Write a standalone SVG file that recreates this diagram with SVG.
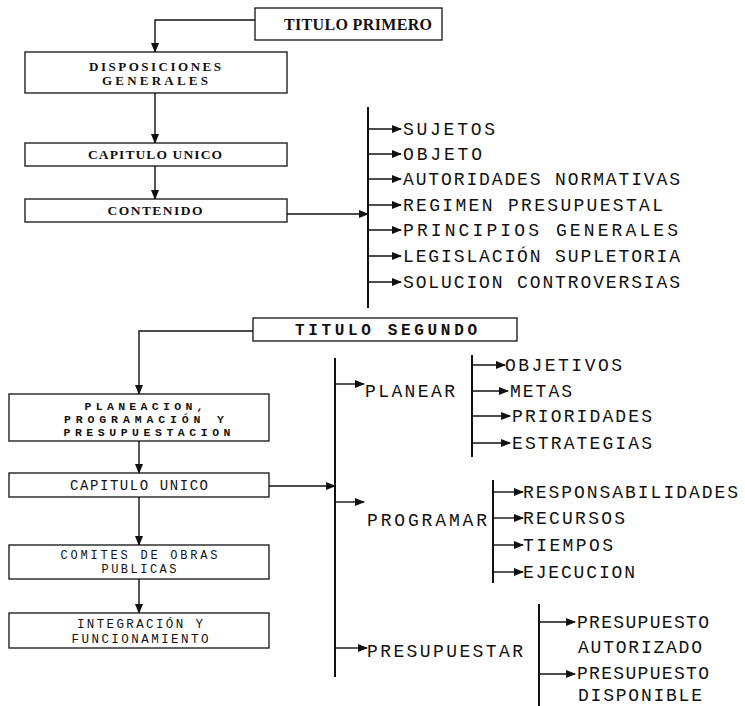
<svg xmlns="http://www.w3.org/2000/svg" width="745" height="706" viewBox="0 0 745 706">
<style>
.box{fill:#fff;stroke:#111;stroke-width:1.3}
.ln{fill:none;stroke:#111;stroke-width:1.4}
.bar{fill:none;stroke:#111;stroke-width:2}
.ser{font-family:"Liberation Serif","Times New Roman",serif;font-weight:bold;fill:#111}
.mono{font-family:"Liberation Mono","Courier New",monospace;fill:#111}
.mb{font-family:"Liberation Mono","Courier New",monospace;font-weight:bold;fill:#111}
.li{font-size:18px}
</style>
<defs>
<marker id="ah" markerWidth="10" markerHeight="8" refX="9" refY="4" orient="auto" markerUnits="userSpaceOnUse">
<path d="M0,0 L10,4 L0,8 Z" fill="#111"/>
</marker>
</defs>
<rect width="745" height="706" fill="#fff"/>

<g id="connectors">
<path class="ln" d="M255,20 H155 V52" marker-end="url(#ah)"/>
<path class="ln" d="M155,93 V143" marker-end="url(#ah)"/>
<path class="ln" d="M155,166 V199" marker-end="url(#ah)"/>
<path class="ln" d="M287,214 H368" marker-end="url(#ah)"/>
<path class="bar" d="M368,107 V308"/>
<path class="ln" d="M368,129 H401" marker-end="url(#ah)"/>
<path class="ln" d="M368,154 H401" marker-end="url(#ah)"/>
<path class="ln" d="M368,179 H401" marker-end="url(#ah)"/>
<path class="ln" d="M368,205 H401" marker-end="url(#ah)"/>
<path class="ln" d="M368,230 H401" marker-end="url(#ah)"/>
<path class="ln" d="M368,256 H401" marker-end="url(#ah)"/>
<path class="ln" d="M368,282 H401" marker-end="url(#ah)"/>

<path class="ln" d="M253,331 H139 V394" marker-end="url(#ah)"/>
<path class="ln" d="M139,441 V473" marker-end="url(#ah)"/>
<path class="ln" d="M269,486 H335" marker-end="url(#ah)"/>
<path class="ln" d="M139,497 V545" marker-end="url(#ah)"/>
<path class="ln" d="M139,579 V613" marker-end="url(#ah)"/>
<path class="bar" d="M335,358 V677"/>
<path class="ln" d="M335,384 H364" marker-end="url(#ah)"/>
<path class="ln" d="M335,502 H364" marker-end="url(#ah)"/>
<path class="ln" d="M335,648 H367" marker-end="url(#ah)"/>

<path class="bar" d="M472,355 V457"/>
<path class="ln" d="M472,365 H505" marker-end="url(#ah)"/>
<path class="ln" d="M472,391 H508" marker-end="url(#ah)"/>
<path class="ln" d="M472,416 H510" marker-end="url(#ah)"/>
<path class="ln" d="M472,443 H510" marker-end="url(#ah)"/>

<path class="bar" d="M493,480 V583"/>
<path class="ln" d="M493,492 H523" marker-end="url(#ah)"/>
<path class="ln" d="M493,518 H523" marker-end="url(#ah)"/>
<path class="ln" d="M493,545 H523" marker-end="url(#ah)"/>
<path class="ln" d="M493,572 H523" marker-end="url(#ah)"/>

<path class="bar" d="M539,604 V706"/>
<path class="ln" d="M539,622 H575" marker-end="url(#ah)"/>
<path class="ln" d="M539,674 H575" marker-end="url(#ah)"/>
</g>

<g id="titulo-primero">
<rect class="box" x="255" y="8" width="187" height="32"/>
<text class="ser" x="358" y="30" font-size="16" text-anchor="middle" textLength="148" lengthAdjust="spacing">TITULO PRIMERO</text>
</g>
<g id="disposiciones">
<rect class="box" x="25" y="52" width="262" height="41"/>
<text class="ser" x="155" y="71" font-size="13" text-anchor="middle" textLength="132" lengthAdjust="spacing">DISPOSICIONES</text>
<text class="ser" x="155" y="85" font-size="13" text-anchor="middle" textLength="106" lengthAdjust="spacing">GENERALES</text>
</g>
<g id="capitulo-unico-1">
<rect class="box" x="25" y="143" width="262" height="23"/>
<text class="ser" x="155" y="159" font-size="13.5" text-anchor="middle" textLength="134" lengthAdjust="spacing">CAPITULO UNICO</text>
</g>
<g id="contenido">
<rect class="box" x="25" y="199" width="262" height="23"/>
<text class="ser" x="155" y="215" font-size="13.5" text-anchor="middle" textLength="95" lengthAdjust="spacing">CONTENIDO</text>
</g>

<g id="lista-1" class="mono li">
<text x="403" y="135" textLength="92" lengthAdjust="spacing">SUJETOS</text>
<text x="403" y="160" textLength="79" lengthAdjust="spacing">OBJETO</text>
<text x="403" y="185" textLength="277" lengthAdjust="spacing">AUTORIDADES NORMATIVAS</text>
<text x="403" y="211" textLength="260" lengthAdjust="spacing">REGIMEN PRESUPUESTAL</text>
<text x="403" y="236" textLength="275" lengthAdjust="spacing">PRINCIPIOS GENERALES</text>
<text x="403" y="262" textLength="277" lengthAdjust="spacing">LEGISLACIÓN SUPLETORIA</text>
<text x="403" y="288" textLength="277" lengthAdjust="spacing">SOLUCION CONTROVERSIAS</text>
</g>

<g id="titulo-segundo">
<rect class="box" x="253" y="318" width="264" height="23"/>
<text class="mb" x="386" y="335" font-size="16" text-anchor="middle" textLength="182" lengthAdjust="spacing">TITULO SEGUNDO</text>
</g>
<g id="planeacion">
<rect class="box" x="9" y="394" width="260" height="47"/>
<text class="mb" x="144" y="410" font-size="11.5" text-anchor="middle" textLength="119" lengthAdjust="spacing">PLANEACION,</text>
<text class="mb" x="144" y="423" font-size="11.5" text-anchor="middle" textLength="160" lengthAdjust="spacing">PROGRAMACIÓN Y</text>
<text class="mb" x="147" y="436" font-size="11.5" text-anchor="middle" textLength="167" lengthAdjust="spacing">PRESUPUESTACION</text>
</g>
<g id="capitulo-unico-2">
<rect class="box" x="9" y="473" width="260" height="24"/>
<text class="mono" x="139" y="490" font-size="14" text-anchor="middle" textLength="138" lengthAdjust="spacing">CAPITULO UNICO</text>
</g>
<g id="comites">
<rect class="box" x="9" y="545" width="260" height="34"/>
<text class="mono" x="139" y="559" font-size="12" text-anchor="middle" textLength="157" lengthAdjust="spacing">COMITES DE OBRAS</text>
<text class="mono" x="139" y="573" font-size="12" text-anchor="middle" textLength="75" lengthAdjust="spacing">PUBLICAS</text>
</g>
<g id="integracion">
<rect class="box" x="9" y="613" width="260" height="35"/>
<text class="mono" x="140" y="628" font-size="12.5" text-anchor="middle" textLength="126" lengthAdjust="spacing">INTEGRACIÓN Y</text>
<text class="mono" x="140" y="643" font-size="12.5" text-anchor="middle" textLength="137" lengthAdjust="spacing">FUNCIONAMIENTO</text>
</g>

<g id="planear" class="mono li">
<text x="365" y="397" textLength="90" lengthAdjust="spacing">PLANEAR</text>
</g>
<g id="lista-planear" class="mono li">
<text x="505" y="371" textLength="117" lengthAdjust="spacing">OBJETIVOS</text>
<text x="510" y="397" textLength="62" lengthAdjust="spacing">METAS</text>
<text x="512" y="422" textLength="140" lengthAdjust="spacing">PRIORIDADES</text>
<text x="512" y="449" textLength="140" lengthAdjust="spacing">ESTRATEGIAS</text>
</g>
<g id="programar" class="mono li">
<text x="367" y="526" textLength="120" lengthAdjust="spacing">PROGRAMAR</text>
</g>
<g id="lista-programar" class="mono li">
<text x="523" y="498" textLength="215" lengthAdjust="spacing">RESPONSABILIDADES</text>
<text x="523" y="524" textLength="102" lengthAdjust="spacing">RECURSOS</text>
<text x="523" y="551" textLength="90" lengthAdjust="spacing">TIEMPOS</text>
<text x="523" y="578" textLength="112" lengthAdjust="spacing">EJECUCION</text>
</g>
<g id="presupuestar" class="mono li">
<text x="367" y="657" textLength="156" lengthAdjust="spacing">PRESUPUESTAR</text>
</g>
<g id="lista-presupuestar" class="mono li">
<text x="577" y="628" textLength="132" lengthAdjust="spacing">PRESUPUESTO</text>
<text x="578" y="653" textLength="124" lengthAdjust="spacing">AUTORIZADO</text>
<text x="577" y="679" textLength="132" lengthAdjust="spacing">PRESUPUESTO</text>
<text x="578" y="701" textLength="124" lengthAdjust="spacing">DISPONIBLE</text>
</g>
</svg>
